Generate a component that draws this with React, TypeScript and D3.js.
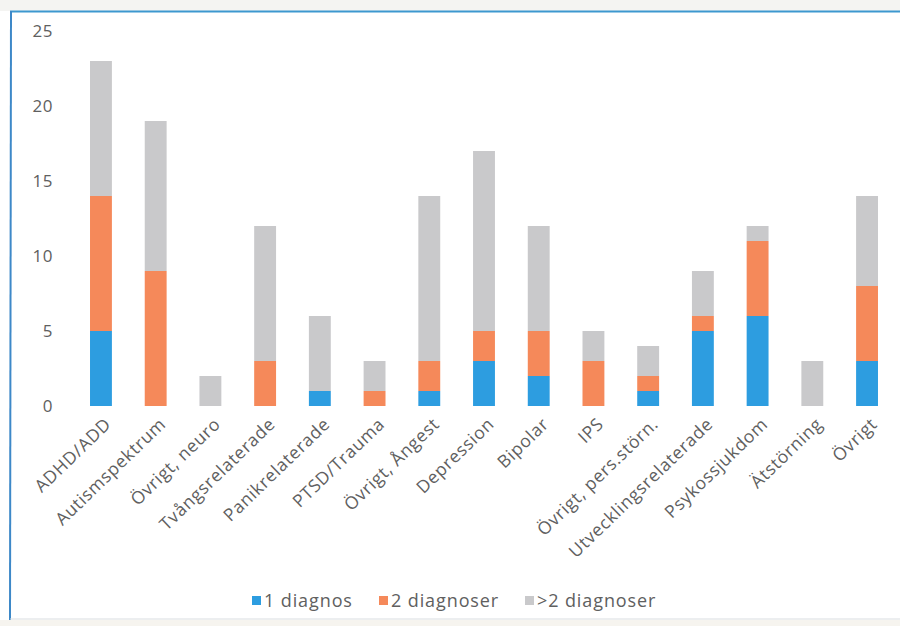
import React from "react";
import * as d3 from "d3";

const categories = [
  "ADHD/ADD", "Autismspektrum", "Övrigt, neuro", "Tvångsrelaterade", "Panikrelaterade",
  "PTSD/Trauma", "Övrigt, Ångest", "Depression", "Bipolar", "IPS",
  "Övrigt, pers.störn.", "Utvecklingsrelaterade", "Psykossjukdom", "Ätstörning", "Övrigt",
];
const diag1 = [5, 0, 0, 0, 1, 0, 1, 3, 2, 0, 1, 5, 6, 0, 3];
const diag2 = [9, 9, 0, 3, 0, 1, 2, 2, 3, 3, 1, 1, 5, 0, 5];
const diag3 = [9, 10, 2, 9, 5, 2, 11, 12, 7, 2, 2, 3, 1, 3, 6];
const seriesNames = ["1 diagnos", "2 diagnoser", ">2 diagnoser"];
const colors = ["#2d9de0", "#f5895a", "#c9c9cb"];
const yTicks = [0, 5, 10, 15, 20, 25];

const W = 900, H = 626;
const FONT = "'Open Sans', sans-serif";
const TEXT = "#606060";

export default function App() {
  const rows = categories.map((c, i) => ({ cat: c, s0: diag1[i], s1: diag2[i], s2: diag3[i] }));
  const stack = d3.stack<any>().keys(["s0", "s1", "s2"])(rows);
  const x = d3.scaleBand().domain(categories).range([73.6, 894.4]).paddingInner(0.6).paddingOuter(0.3);
  const y = d3.scaleLinear().domain([0, 25]).range([406, 31]);
  const bw = x.bandwidth();

  const legendX = [252, 379, 525];

  return (
    <svg width={W} height={H} style={{ position: "absolute", left: 0, top: 0, background: "#fff" }}>
      <rect x={0} y={0} width={W} height={H} fill="#fff" />
      <rect x={0} y={0} width={W} height={11} fill="#f4f4f2" />
      <rect x={0} y={620} width={W} height={6} fill="#f6f4ef" />
      <line x1={10} y1={11.5} x2={W} y2={11.5} stroke="#3d98cf" strokeWidth={2} />
      <line x1={11} y1={11} x2={10} y2={620} stroke="#3d88c8" strokeWidth={2} />
      <line x1={10} y1={619} x2={W} y2={619} stroke="#d9dde0" strokeWidth={1} />
      {yTicks.map((t) => (
        <text key={t} x={53} y={y(t)} dy="0.35em" textAnchor="end" fontFamily={FONT} fontSize={17} fill={TEXT}
          letterSpacing={0.5}>
          {t}
        </text>
      ))}
      {stack.map((s, si) => (
        <g key={si} fill={colors[si]}>
          {s.map((d, i) =>
            d[1] - d[0] > 0 ? (
              <rect key={i} x={x(categories[i])!} y={y(d[1])} width={bw} height={y(d[0]) - y(d[1])} />
            ) : null
          )}
        </g>
      ))}
      {categories.map((c) => {
        const cx = x(c)! + bw / 2 + 7;
        return (
          <text key={c} transform={`translate(${cx},${421}) rotate(-44)`} textAnchor="end" dy="0.35em"
            fontFamily={FONT} fontSize={17.5} letterSpacing={0.7} fill={TEXT}>
            {c}
          </text>
        );
      })}
      {seriesNames.map((n, i) => (
        <g key={n}>
          <rect x={legendX[i]} y={596} width={9} height={9} fill={colors[i]} />
          <text x={legendX[i] + 12} y={600.5} dy="0.35em" fontFamily={FONT} fontSize={18} letterSpacing={0.9} fill={TEXT}>
            {n}
          </text>
        </g>
      ))}
    </svg>
  );
}
